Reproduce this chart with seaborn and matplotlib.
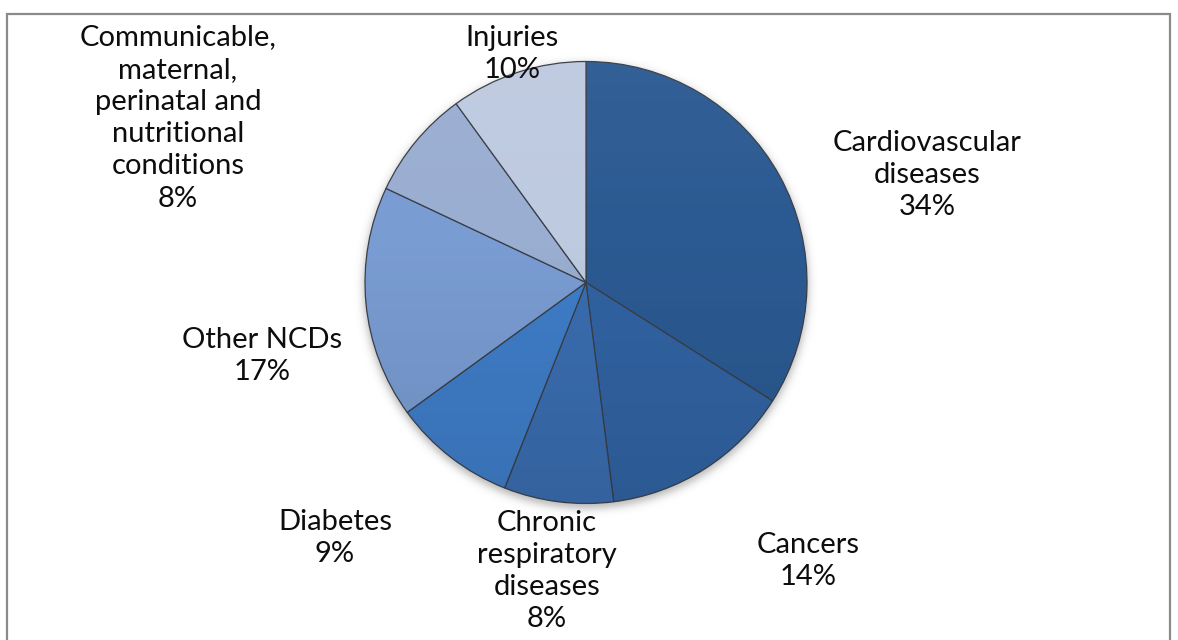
import numpy as np
import matplotlib
matplotlib.use("Agg")
import matplotlib.pyplot as plt
import seaborn as sns
from matplotlib.patches import Rectangle

# Share of deaths by cause
categories = [
    "Cardiovascular\ndiseases",
    "Cancers",
    "Chronic\nrespiratory\ndiseases",
    "Diabetes",
    "Other NCDs",
    "Communicable,\nmaternal,\nperinatal and\nnutritional\nconditions",
    "Injuries",
]
shares = [34, 14, 8, 9, 17, 8, 10]
slice_colors = ["#2B5A92", "#3163A2", "#3A6DB0", "#3F7DC8",
                "#799CD2", "#9AAED2", "#BECAE0"]

# Label anchors in pixel units (x from left, y from top)
label_pos = [(927, 175), (808, 561), (547, 571), (335, 538),
             (262, 356), (178, 118), (512, 54)]

W, H = 1178, 640
CX, CY, R = 586, H - 282.5, 221

sns.set_theme(style="white")
plt.rcParams["font.family"] = ["Lato", "DejaVu Sans"]

fig = plt.figure(figsize=(W / 100, H / 100), dpi=100)
ax = fig.add_axes([0, 0, 1, 1])

# soft drop shadow under the pie
pad = 30
xs = np.arange(CX - R - pad, CX + R + pad)
ys = np.arange(CY - R - pad, CY + R + pad)
gx, gy = np.meshgrid(xs, ys[::-1])
d = np.hypot(gx - CX, gy - (CY - 4))
alpha = 0.28 / (1 + np.exp((d - R - 2) / 2.5))
shadow = np.zeros(d.shape + (4,))
shadow[..., 3] = alpha
ax.imshow(shadow, extent=[xs[0], xs[-1], ys[0], ys[-1]], aspect="auto",
          zorder=0, interpolation="bilinear")

wedges, _ = ax.pie(
    shares,
    colors=slice_colors,
    startangle=90,
    counterclock=False,
    center=(CX, CY),
    radius=R,
    wedgeprops=dict(edgecolor="#3a3f48", linewidth=0.9, zorder=1),
)

# gentle top-to-bottom shading on every slice
g = np.linspace(0, 1, 256)
shade = np.zeros((256, 1, 4))
shade[:, 0, :3] = np.where(g[:, None] < 0.4, 1.0, 0.0)
shade[:, 0, 3] = np.where(g < 0.4, 0.04 * (1 - g / 0.4), 0.10 * (g - 0.4) / 0.6)
for w in wedges:
    im = ax.imshow(shade, extent=[CX - R, CX + R, CY - R, CY + R],
                   aspect="auto", interpolation="bilinear", zorder=2)
    im.set_clip_path(w)

for name, share, (lx, ly) in zip(categories, shares, label_pos):
    ax.text(lx, H - ly, f"{name}\n{share}%", ha="center", va="center",
            fontsize=21, fontweight="normal", color="#0d0d0d",
            linespacing=1.3, zorder=3)

# chart area border
ax.add_patch(Rectangle((7, -5), 1163, H - 14 + 5, fill=False,
                       edgecolor="#8a8a8a", linewidth=1.6, zorder=4))

ax.set_xlim(0, W)
ax.set_ylim(0, H)
ax.set_axis_off()

fig.savefig("out.png", dpi=100, facecolor="white")
